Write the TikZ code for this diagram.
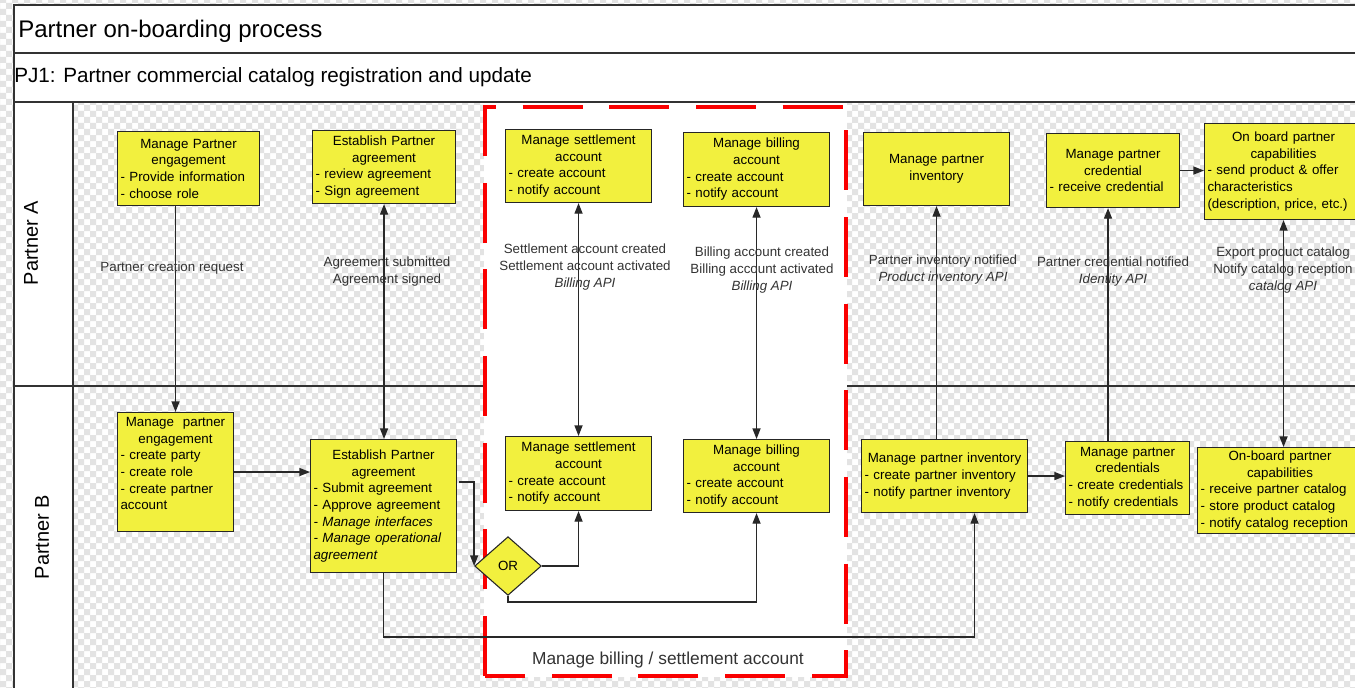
\documentclass[tikz,border=0pt]{standalone}
\usepackage{fontspec}
\setmainfont{Liberation Sans}
\usetikzlibrary{shapes.geometric,arrows.meta,calc,patterns}
\setlength\parindent{0pt}
\setlength\parskip{0pt}

% light transparency-style checkerboard for the swimlane background
\pgfdeclarepatternformonly{checks}{\pgfqpoint{-1pt}{-1pt}}{\pgfqpoint{10pt}{10pt}}{\pgfqpoint{9pt}{9pt}}{%
  \pgfpathrectangle{\pgfpointorigin}{\pgfqpoint{4.5pt}{4.5pt}}%
  \pgfpathrectangle{\pgfqpoint{4.5pt}{4.5pt}}{\pgfqpoint{4.5pt}{4.5pt}}%
  \pgfusepath{fill}}

\definecolor{boxyellow}{RGB}{242,240,62}
\definecolor{ink}{RGB}{40,40,40}
\definecolor{lbl}{RGB}{51,51,51}
\definecolor{grpred}{RGB}{250,0,0}

\tikzset{
  procbox/.style={draw=black!85, line width=0.8pt, fill=boxyellow,
    inner xsep=2.25pt, inner ysep=0pt, anchor=north west, align=left,
    font=\fontsize{10}{12.5}\selectfont},
  decision/.style={shape=diamond, draw=black!85, line width=0.8pt, fill=boxyellow,
    minimum width=50pt, minimum height=44pt, inner sep=0pt,
    font=\fontsize{10}{12}\selectfont},
  flowlbl/.style={font=\fontsize{10}{12.75}\selectfont, align=center, text=lbl, inner sep=0pt},
  flow/.style={draw=ink, line width=1.1pt},
  arr/.style={flow, -{Triangle[length=8pt,width=6pt]}},
  darr/.style={flow, {Triangle[length=8pt,width=6pt]}-{Triangle[length=8pt,width=6pt]}},
  frameline/.style={draw=black!80, line width=1pt},
  grpline/.style={draw=grpred, line width=2.3pt, dash pattern=on 45pt off 20pt},
}

% centred heading lines inside a process box
\newcommand\boxhead[1]{{\centering #1\par}}

% process box given by its corners (in px, y downwards)
\newcommand\procnode[6]{%
  \pgfmathsetmacro\bxw{(#4-#2)*0.75}%
  \pgfmathsetmacro\bxh{(#5-#3)*0.75}%
  \pgfmathsetmacro\bxt{(#4-#2-6)*0.75}%
  \node[procbox, text width=\bxt pt, minimum width=\bxw pt, minimum height=\bxh pt] (#1) at (#2,#3) {#6};%
}

\begin{document}
\begin{tikzpicture}[x=0.75pt, y=-0.75pt]
\useasboundingbox (0,0) rectangle (1355,687);
\clip (0,0) rectangle (1355,687);

% background
\fill[white] (0,0) rectangle (1355,687);
\fill[pattern=checks, pattern color=gray!22] (0,0) rectangle (1355,687);

% header rows and lane label column
\fill[white] (14,5) rectangle (1360,102);
\fill[white] (14,102) rectangle (73,690);
\draw[frameline] (1360,5) -- (14,5) -- (14,690);
\draw[frameline] (14,53) -- (1360,53);
\draw[frameline] (14,102) -- (1360,102);
\draw[frameline] (14,386) -- (1360,386);
\draw[frameline] (73,102) -- (73,690);

\node[anchor=base west, inner sep=0pt, font=\fontsize{18}{22}\selectfont] (title) at (18,37) {Partner on-boarding process};
\node[anchor=base west, inner sep=0pt, font=\fontsize{15.5}{18}\selectfont] (subtitle) at (14,82) {PJ1: Partner commercial catalog registration and update};

\node[rotate=90, inner sep=0pt, font=\fontsize{15}{18}\selectfont] (laneA) at (31,243) {Partner A};
\node[rotate=90, inner sep=0pt, font=\fontsize{15}{18}\selectfont] (laneB) at (42,537) {Partner B};

% billing / settlement group
\fill[white] (484,103) rectangle (847,677);
\draw[grpline] (485,676) -- (485,107) -- (846,107) -- (846,676) -- cycle;
\node[font=\fontsize{13}{15}\selectfont, text=lbl, inner sep=0pt] (grplabel) at (668,660) {Manage billing / settlement account};

% Partner A lane
\procnode{a1}{117}{131}{259}{205}{\boxhead{Manage Partner\\engagement}- Provide information\\- choose role}
\procnode{a2}{312}{130}{455}{203}{\boxhead{Establish Partner\\agreement}- review agreement\\- Sign agreement}
\procnode{a3}{505}{129}{651}{202}{\boxhead{Manage settlement\\account}- create account\\- notify account}
\procnode{a4}{683}{132}{829}{206}{\boxhead{Manage billing\\account}- create account\\- notify account}
\procnode{a5}{863}{132}{1009}{205}{\boxhead{Manage partner\\inventory}}
\procnode{a6}{1046}{133}{1179}{207}{\boxhead{Manage partner\\credential}- receive credential}
\procnode{a7}{1204}{123}{1362}{219}{\boxhead{On board partner\\capabilities}- send product \& offer\\characteristics\\(description, price, etc.)}

% Partner B lane
\procnode{b1}{117}{412}{233}{531}{\boxhead{Manage\ \ partner\\engagement}- create party\\- create role\\- create partner\\account\\\mbox{}}
\procnode{b2}{310}{439}{456}{572}{\boxhead{Establish Partner\\agreement}- Submit agreement\\- Approve agreement\\\textit{- Manage interfaces}\\\textit{- Manage operational}\\\textit{agreement}}
\procnode{b3}{505}{436}{651}{510}{\boxhead{Manage settlement\\account}- create account\\- notify account}
\procnode{b4}{683}{439}{829}{512}{\boxhead{Manage billing\\account}- create account\\- notify account}
\procnode{b5}{861}{439}{1027}{512}{\boxhead{Manage partner inventory}- create partner inventory\\- notify partner inventory}
\procnode{b6}{1065}{441}{1189}{514}{\boxhead{Manage partner\\credentials}- create credentials\\- notify credentials}
\procnode{b7}{1197}{447}{1362}{533}{\boxhead{On-board partner\\capabilities}- receive partner catalog\\- store product catalog\\- notify catalog reception}

\node[decision] (or) at (508,566) {OR};

% message flows between the lanes
\draw[arr] (a1.south -| b1.north) -- (b1.north);
\draw[darr] (a2.south) -- (a2.south |- b2.north);
\draw[darr] (a3.south) -- (b3.north);
\draw[darr] (a4.south) -- (b4.north);
\draw[arr] (b5.north -| a5.south) -- (a5.south);
\coordinate (c6) at ($(a6.south)+(-5,0)$);
\draw[arr] (c6 |- b6.north) -- (c6);
\draw[darr] (a7.south) -- (a7.south |- b7.north);

% sequence flows in Partner B lane
\draw[arr] (b1.east) -- (b1.east -| b2.west);
\draw[arr] ($(b2.north east)+(2,43)$) -| (or.west);
\draw[arr] (or.east) -| (b3.south);
\draw[arr] (or.south) -- ++(0,6) -| (b4.south);
\draw[arr] (b2.south) -- ++(0,64) -| ($(b5.south)+(30,0)$);
\draw[arr] (b5.east) -- (b5.east -| b6.west);
\draw[arr] (a6.east) -- (a6.east -| a7.west);

% flow labels
\node[flowlbl] (l1) at (172,268) {Partner creation request};
\node[flowlbl] (l2) at (387,271.5) {Agreement submitted\\Agreement signed};
\node[flowlbl] (l3) at (585,267) {Settlement account created\\Settlement account activated\\\textit{Billing API}};
\node[flowlbl] (l4) at (762,270) {Billing account created\\Billing account activated\\\textit{Billing API}};
\node[flowlbl] (l5) at (943,269.5) {Partner inventory notified\\\textit{Product inventory API}};
\node[flowlbl] (l6) at (1113,271.5) {Partner credential notified\\\textit{Identity API}};
\node[flowlbl] (l7) at (1283,270) {Export product catalog\\Notify catalog reception\\\textit{catalog API}};
\end{tikzpicture}
\end{document}
